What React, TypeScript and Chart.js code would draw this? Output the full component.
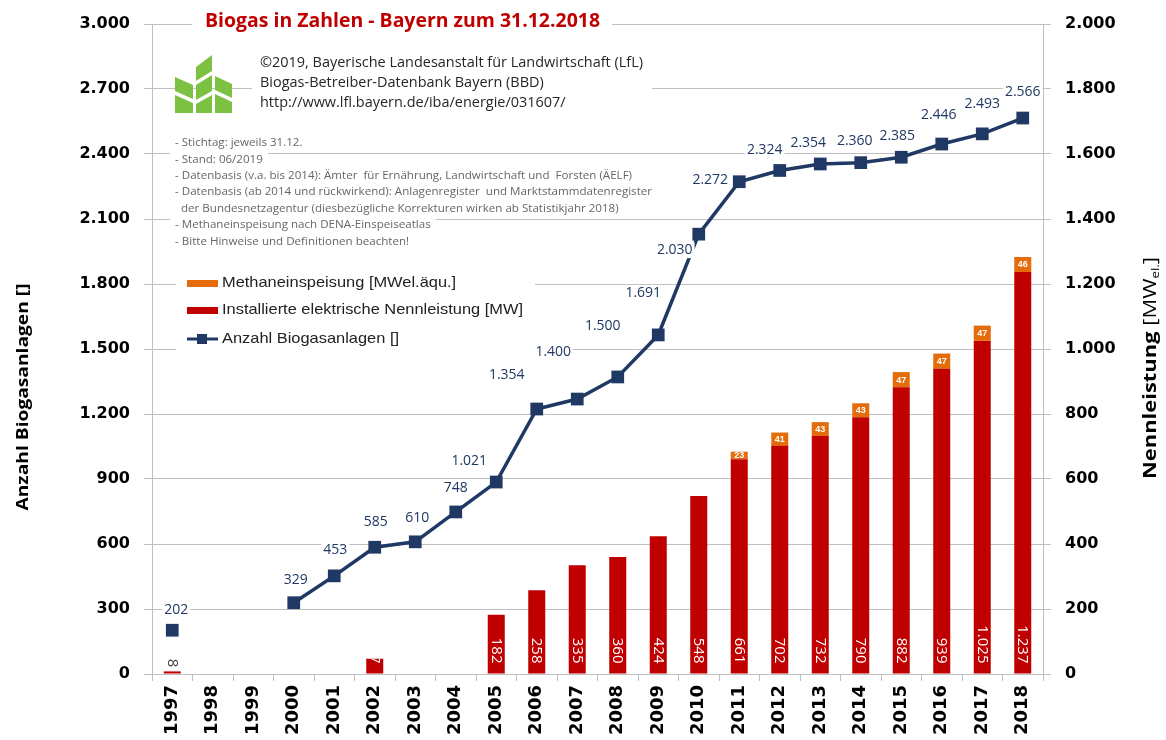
import React, { useEffect, useRef } from 'react';
import { Chart, registerables } from 'chart.js';

Chart.register(...registerables);

const years = ['1997', '1998', '1999', '2000', '2001', '2002', '2003', '2004', '2005', '2006', '2007', '2008', '2009', '2010', '2011', '2012', '2013', '2014', '2015', '2016', '2017', '2018'];
// plotted positions of the plant count line
const plantCount = [202, null, null, 329, 453, 585, 610, 748, 886, 1223, 1269, 1371, 1565, 2030, 2272, 2324, 2354, 2360, 2385, 2446, 2493, 2566];
// data label texts printed on the line
const plantCountLabels = ['202', '', '', '329', '453', '585', '610', '748', '1.021', '1.354', '1.400', '1.500', '1.691', '2.030', '2.272', '2.324', '2.354', '2.360', '2.385', '2.446', '2.493', '2.566'];
const installedMW = [8, null, null, null, null, 47, null, null, 182, 258, 335, 360, 424, 548, 661, 702, 732, 790, 882, 939, 1025, 1237];
const methaneMW = [null, null, null, null, null, null, null, null, null, null, null, null, null, null, 23, 41, 43, 43, 47, 47, 47, 46];

const titleText = 'Biogas in Zahlen - Bayern zum 31.12.2018';
const copyrightLines = [
  '©2019, Bayerische Landesanstalt für Landwirtschaft (LfL)',
  'Biogas-Betreiber-Datenbank Bayern (BBD)',
  'http://www.lfl.bayern.de/iba/energie/031607/',
];
const noteLines = [
  '- Stichtag: jeweils 31.12.',
  '- Stand: 06/2019',
  '- Datenbasis (v.a. bis 2014): Ämter  für Ernährung, Landwirtschaft und  Forsten (ÄELF)',
  '- Datenbasis (ab 2014 und rückwirkend): Anlagenregister  und Marktstammdatenregister',
  '  der Bundesnetzagentur (diesbezügliche Korrekturen wirken ab Statistikjahr 2018)',
  '- Methaneinspeisung nach DENA-Einspeiseatlas',
  '- Bitte Hinweise und Definitionen beachten!',
];
const legendLabels = ['Methaneinspeisung [MWel.äqu.]', 'Installierte elektrische Nennleistung [MW]', 'Anzahl Biogasanlagen []'];
const leftTitle = 'Anzahl Biogasanlagen []';

// label offsets (style) for the line data labels
const lineLabelDx = [4, 0, 0, 2, 1, 1, 2, 0, -27, -30, -24, -15, -15, -24, -29, -15, -12, -6, -4, -3, 0, 0];
const lineLabelDy = [-20, 0, 0, -23, -26, -25, -24, -24, -21, -34, -47, -51, -42, 16, -2, -20, -21, -22, -21, -29, -30, -26];

const RED = '#C00000';
const ORANGE = '#E46C0A';
const NAVY = '#1F3864';
const GRID = '#BFBFBF';

const fmt = (v: number) => String(v).replace(/\B(?=(\d{3})+(?!\d))/g, '.');

function fitText(ctx: CanvasRenderingContext2D, text: string, x: number, y: number, font: string, width: number, align: CanvasTextAlign = 'left') {
  ctx.save();
  ctx.font = font;
  const w = ctx.measureText(text).width;
  const sx = width / w;
  ctx.translate(x, y);
  ctx.scale(sx, 1);
  ctx.textAlign = align;
  ctx.fillText(text, 0, 0);
  ctx.restore();
}

function drawLogo(ctx: CanvasRenderingContext2D) {
  ctx.save();
  ctx.fillStyle = '#7CC142';
  const polys: number[][][] = [
    [[196, 67], [212, 55], [212, 71], [196, 81]],
    [[175, 77], [193, 85], [193, 99], [175, 91]],
    [[175, 95], [193, 103], [193, 113], [175, 113]],
    [[196, 85], [212, 75], [212, 91], [196, 100]],
    [[196, 104], [212, 95], [212, 113], [196, 113]],
    [[215, 76], [232, 84], [232, 98], [215, 90]],
    [[215, 94], [232, 102], [232, 113], [215, 113]],
  ];
  for (const p of polys) {
    ctx.beginPath();
    ctx.moveTo(p[0][0], p[0][1]);
    for (let i = 1; i < p.length; i++) ctx.lineTo(p[i][0], p[i][1]);
    ctx.closePath();
    ctx.fill();
  }
  ctx.restore();
}

const overlayPlugin = {
  id: 'overlay',
  afterDraw(chart: any) {
    const ctx: CanvasRenderingContext2D = chart.ctx;

    // Title
    ctx.save();
    ctx.fillStyle = '#fff';
    ctx.fillRect(192, 8, 420, 26);
    ctx.fillStyle = RED;
    ctx.textBaseline = 'middle';
    fitText(ctx, titleText, 205, 21, 'bold 20px "Open Sans"', 395);
    ctx.restore();

    // Logo + copyright
    drawLogo(ctx);
    ctx.save();
    ctx.fillStyle = '#fff';
    ctx.fillRect(252, 52, 400, 62);
    ctx.fillStyle = '#262626';
    ctx.textBaseline = 'middle';
    ctx.font = '14px "Open Sans"';
    const cs = 383 / ctx.measureText(copyrightLines[0]).width;
    copyrightLines.forEach((t, i) => {
      ctx.save();
      ctx.translate(260, 63 + i * 20);
      ctx.scale(cs, 1);
      ctx.fillText(t, 0, 0);
      ctx.restore();
    });
    ctx.restore();

    // Notes
    ctx.save();
    ctx.font = '11px "Open Sans"';
    const ns = 477 / ctx.measureText(noteLines[3]).width;
    ctx.textBaseline = 'middle';
    noteLines.forEach((t, i) => {
      const y = 143 + i * 16.4;
      const w = ctx.measureText(t).width * ns;
      ctx.fillStyle = '#fff';
      ctx.fillRect(170, y - 8, w + 10, 16);
      ctx.fillStyle = '#666';
      ctx.save();
      ctx.translate(175, y);
      ctx.scale(ns, 1);
      ctx.fillText(t, 0, 0);
      ctx.restore();
    });
    ctx.restore();

    // Legend
    ctx.save();
    ctx.fillStyle = '#fff';
    ctx.fillRect(176, 268, 359, 84);
    ctx.fillStyle = ORANGE;
    ctx.fillRect(187, 280, 31, 7);
    ctx.fillStyle = RED;
    ctx.fillRect(187, 307, 31, 7);
    ctx.strokeStyle = NAVY;
    ctx.lineWidth = 3;
    ctx.beginPath();
    ctx.moveTo(187, 339);
    ctx.lineTo(218, 339);
    ctx.stroke();
    ctx.fillStyle = NAVY;
    ctx.fillRect(197, 334, 10, 10);
    ctx.fillStyle = '#222';
    ctx.textBaseline = 'middle';
    ctx.font = '15px "Liberation Sans"';
    const ls = 301 / ctx.measureText(legendLabels[1]).width;
    [283, 310, 339].forEach((y, i) => {
      ctx.save();
      ctx.translate(222, y);
      ctx.scale(ls, 1);
      ctx.fillText(legendLabels[i], 0, 0);
      ctx.restore();
    });
    ctx.restore();

    // Axis titles
    ctx.save();
    ctx.fillStyle = '#000';
    ctx.textBaseline = 'middle';
    ctx.translate(23, 397);
    ctx.rotate(-Math.PI / 2);
    fitText(ctx, leftTitle, 0, 0, 'bold 16px "Open Sans"', 227, 'center');
    ctx.restore();

    ctx.save();
    ctx.fillStyle = '#000';
    ctx.textBaseline = 'middle';
    ctx.translate(1151, 368);
    ctx.rotate(-Math.PI / 2);
    const p1 = 'Nennleistung ';
    const p2 = '[MW';
    const p3 = 'el.';
    const p4 = ']';
    ctx.font = 'bold 18px "Open Sans"';
    const w1 = ctx.measureText(p1).width;
    ctx.font = '18px "Open Sans"';
    const w2 = ctx.measureText(p2).width;
    const w4 = ctx.measureText(p4).width;
    ctx.font = '11px "Open Sans"';
    const w3 = ctx.measureText(p3).width;
    const sxT = 222 / (w1 + w2 + w3 + w4);
    ctx.scale(sxT, 1);
    let cx = -(w1 + w2 + w3 + w4) / 2;
    ctx.textAlign = 'left';
    ctx.font = 'bold 18px "Open Sans"';
    ctx.fillText(p1, cx, 0); cx += w1;
    ctx.font = '18px "Open Sans"';
    ctx.fillText(p2, cx, 0); cx += w2;
    ctx.font = '11px "Open Sans"';
    ctx.fillText(p3, cx, 5); cx += w3;
    ctx.font = '18px "Open Sans"';
    ctx.fillText(p4, cx, 0);
    ctx.restore();

    // Bar labels (installed)
    const barMeta = chart.getDatasetMeta(1);
    installedMW.forEach((v, i) => {
      if (v == null) return;
      const el = barMeta.data[i];
      const { x, y, base, width } = el.getProps(['x', 'y', 'base', 'width'], true);
      ctx.save();
      ctx.font = '15px "Open Sans"';
      ctx.textBaseline = 'middle';
      ctx.textAlign = 'right';
      if (v < 20) {
        ctx.fillStyle = '#404040';
        ctx.translate(x, y - 4);
        ctx.rotate(Math.PI / 2);
        ctx.fillText(fmt(v), 0, 0);
      } else {
        ctx.beginPath();
        ctx.rect(x - width / 2, y, width, base - y);
        ctx.clip();
        ctx.fillStyle = '#fff';
        ctx.translate(x, base - 10);
        ctx.rotate(Math.PI / 2);
        ctx.fillText(fmt(v), 0, 0);
      }
      ctx.restore();
    });

    // Methane labels
    const mMeta = chart.getDatasetMeta(2);
    methaneMW.forEach((v, i) => {
      if (v == null) return;
      const el = mMeta.data[i];
      const { x, y, base } = el.getProps(['x', 'y', 'base'], true);
      ctx.save();
      ctx.font = 'bold 9px "Liberation Sans"';
      ctx.fillStyle = '#fff';
      ctx.textAlign = 'center';
      ctx.textBaseline = 'middle';
      ctx.fillText(String(v), x, (y + base) / 2 + 0.5);
      ctx.restore();
    });

    // Line labels
    const lineMeta = chart.getDatasetMeta(0);
    plantCount.forEach((v, i) => {
      if (v == null) return;
      const el = lineMeta.data[i];
      const lx = el.x + lineLabelDx[i];
      const ly = el.y + lineLabelDy[i];
      ctx.save();
      ctx.font = '14px "Open Sans"';
      const t = plantCountLabels[i];
      const w = ctx.measureText(t).width;
      ctx.fillStyle = '#fff';
      ctx.fillRect(lx - w / 2 - 2, ly - 8, w + 4, 16);
      ctx.fillStyle = NAVY;
      ctx.textAlign = 'center';
      ctx.textBaseline = 'middle';
      ctx.fillText(t, lx, ly);
      ctx.restore();
    });
  },
};

export default function App() {
  const ref = useRef<HTMLCanvasElement>(null);
  useEffect(() => {
    const canvas = ref.current!;
    const chart = new Chart(canvas, {
      type: 'bar',
      data: {
        labels: years,
        datasets: [
          {
            type: 'line',
            label: legendLabels[2],
            data: plantCount,
            yAxisID: 'y',
            borderColor: NAVY,
            backgroundColor: NAVY,
            borderWidth: 3.5,
            pointStyle: 'rect',
            pointRadius: 9,
            pointBorderWidth: 0,
            pointBackgroundColor: NAVY,
            spanGaps: false,
            order: 0,
          } as any,
          {
            type: 'bar',
            label: legendLabels[1],
            data: installedMW,
            yAxisID: 'y1',
            backgroundColor: RED,
            stack: 's',
            barPercentage: 0.42,
            categoryPercentage: 1,
            order: 1,
          },
          {
            type: 'bar',
            label: legendLabels[0],
            data: methaneMW,
            yAxisID: 'y1',
            backgroundColor: ORANGE,
            stack: 's',
            barPercentage: 0.42,
            categoryPercentage: 1,
            order: 2,
          },
        ],
      },
      options: {
        responsive: false,
        animation: false,
        devicePixelRatio: 1,
        layout: { padding: { top: 24, left: 0, right: 0, bottom: 0 } },
        plugins: { legend: { display: false }, tooltip: { enabled: false }, title: { display: false } },
        scales: {
          x: {
            stacked: true,
            offset: true,
            afterFit: (s: any) => { s.height = 66; },
            grid: { offset: true, drawOnChartArea: false, drawTicks: true, tickLength: 7, color: GRID },
            border: { color: GRID },
            ticks: {
              autoSkip: false,
              minRotation: 90,
              maxRotation: 90,
              padding: 4,
              color: '#000',
              font: { family: '"DejaVu Sans"', weight: 'bold', size: 18 },
            },
          },
          y: {
            position: 'left',
            min: 0,
            max: 3000,
            afterFit: (s: any) => { s.width = 152; },
            grid: { color: GRID, tickLength: 8 },
            border: { color: GRID },
            ticks: {
              stepSize: 300,
              padding: 14,
              color: '#000',
              font: { family: '"DejaVu Sans"', weight: 'bold', size: 16 },
              callback: (v: any) => fmt(Number(v)),
            },
          },
          y1: {
            position: 'right',
            stacked: true,
            min: 0,
            max: 2000,
            afterFit: (s: any) => { s.width = 123; },
            grid: { drawOnChartArea: false, color: GRID, tickLength: 8 },
            border: { color: GRID },
            ticks: {
              stepSize: 200,
              padding: 14,
              color: '#000',
              font: { family: '"DejaVu Sans"', weight: 'bold', size: 16 },
              callback: (v: any) => fmt(Number(v)),
            },
          },
        },
      },
      plugins: [overlayPlugin],
    });
    return () => chart.destroy();
  }, []);
  return (
    <div style={{ position: 'absolute', left: 0, top: 0, width: 1166, height: 740, background: '#fff' }}>
      <canvas ref={ref} width={1166} height={740} style={{ display: 'block', width: 1166, height: 740 }} />
    </div>
  );
}
